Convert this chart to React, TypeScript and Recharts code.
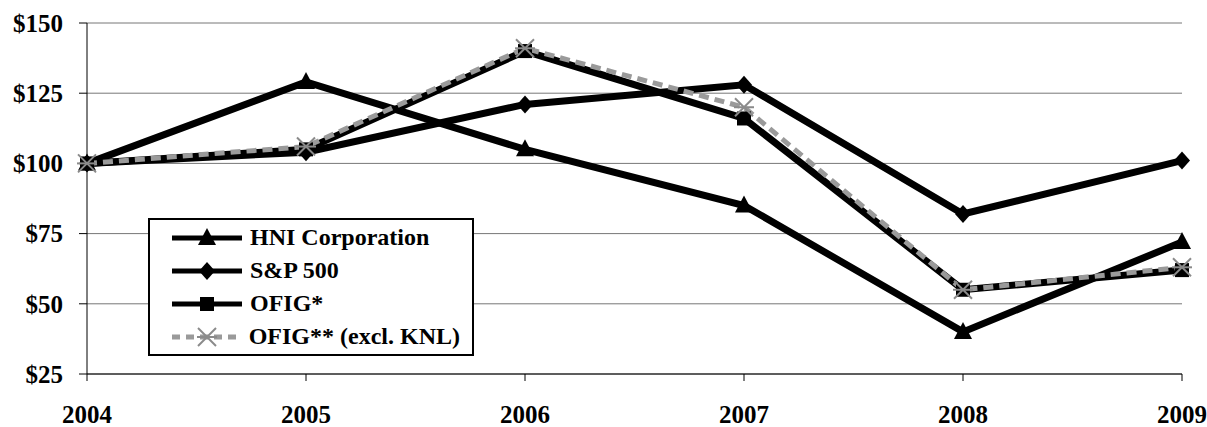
import { CartesianGrid, Line, LineChart, XAxis, YAxis } from 'recharts'

const anos = ['2004', '2005', '2006', '2007', '2008', '2009']
const hni = [100, 129, 105, 85, 40, 72]
const sp500 = [100, 104, 121, 128, 82, 101]
const ofig = [100, 105, 140, 116, 55, 62]
const ofigExcl = [100, 106, 141, 120, 55, 63]
const ticksY = [25, 50, 75, 100, 125, 150]

const dados = anos.map((ano, i) => ({
    ano,
    hni: hni[i],
    sp: sp500[i],
    ofig: ofig[i],
    ofigExcl: ofigExcl[i],
}))

const fonte = '"Liberation Serif", "Times New Roman", serif'

const Triangulo = ({ cx, cy }: { cx: number, cy: number }) => (
    <polygon points={`${cx},${cy - 10} ${cx - 9},${cy + 7} ${cx + 9},${cy + 7}`} fill='#000' />
)
const Losango = ({ cx, cy }: { cx: number, cy: number }) => (
    <polygon points={`${cx},${cy - 9} ${cx + 8},${cy} ${cx},${cy + 9} ${cx - 8},${cy}`} fill='#000' />
)
const Quadrado = ({ cx, cy }: { cx: number, cy: number }) => (
    <rect x={cx - 7} y={cy - 7} width={14} height={14} fill='#000' />
)
const Estrela = ({ cx, cy }: { cx: number, cy: number }) => (
    <g stroke='#8a8a8a' strokeWidth={2}>
        <line x1={cx - 9} y1={cy - 9} x2={cx + 9} y2={cy + 9} />
        <line x1={cx - 9} y1={cy + 9} x2={cx + 9} y2={cy - 9} />
        <line x1={cx - 10} y1={cy} x2={cx + 10} y2={cy} />
    </g>
)

const ponto = (Forma: any) => (props: any) => (
    <Forma key={`p-${props.dataKey}-${props.index}`} cx={props.cx} cy={props.cy} />
)

const itensLegenda = [
    { nome: 'HNI Corporation', forma: Triangulo, tracejado: false },
    { nome: 'S&P 500', forma: Losango, tracejado: false },
    { nome: 'OFIG*', forma: Quadrado, tracejado: false },
    { nome: 'OFIG** (excl. KNL)', forma: Estrela, tracejado: true },
]

const Legenda = () => (
    <div style={{
        position: 'absolute', left: 148, top: 218, border: '2px solid #000', background: '#fff',
        padding: '1px 12px 1px 20px', width: 290,
    }}>
        {itensLegenda.map(item => (
            <div key={item.nome} style={{ display: 'flex', alignItems: 'center', height: 33 }}>
                <svg width={76} height={24}>
                    {item.tracejado ? (
                        <line x1={2} y1={12} x2={72} y2={12} stroke='#9a9a9a' strokeWidth={5} strokeDasharray='8 6' />
                    ) : (
                        <line x1={2} y1={12} x2={72} y2={12} stroke='#000' strokeWidth={5} />
                    )}
                    <item.forma cx={37} cy={12} />
                </svg>
                <span style={{ fontFamily: fonte, fontWeight: 'bold', fontSize: 24, marginLeft: 4, color: '#000', whiteSpace: 'nowrap' }}>
                    {item.nome}
                </span>
            </div>
        ))}
    </div>
)

const GraficoRetorno = () => {
    return (
        <div style={{ position: 'absolute', left: 0, top: 0, background: '#fff', width: 1207, height: 427 }}>
            <LineChart width={1207} height={427} data={dados} margin={{ top: 23, right: 25, left: 0, bottom: 0 }}>
                <CartesianGrid vertical={false} stroke='#777' strokeWidth={1} />
                <XAxis
                    dataKey='ano'
                    height={53}
                    stroke='#000'
                    tickSize={7}
                    tickMargin={24}
                    tick={{ fontFamily: fonte, fontWeight: 'bold', fontSize: 25, fill: '#000' }}
                />
                <YAxis
                    width={87}
                    domain={[25, 150]}
                    ticks={ticksY}
                    stroke='#000'
                    tickSize={8}
                    tickMargin={16}
                    tickFormatter={(v: number) => `$${v}`}
                    tick={{ fontFamily: fonte, fontWeight: 'bold', fontSize: 25, fill: '#000' }}
                />
                <Line type='linear' dataKey='hni' stroke='#000' strokeWidth={7} dot={ponto(Triangulo)} isAnimationActive={false} />
                <Line type='linear' dataKey='sp' stroke='#000' strokeWidth={7} dot={ponto(Losango)} isAnimationActive={false} />
                <Line type='linear' dataKey='ofig' stroke='#000' strokeWidth={7} dot={ponto(Quadrado)} isAnimationActive={false} />
                <Line type='linear' dataKey='ofigExcl' stroke='#9a9a9a' strokeWidth={5} strokeDasharray='10 6' dot={ponto(Estrela)} isAnimationActive={false} />
            </LineChart>
            <Legenda />
        </div>
    )
}

export default GraficoRetorno
